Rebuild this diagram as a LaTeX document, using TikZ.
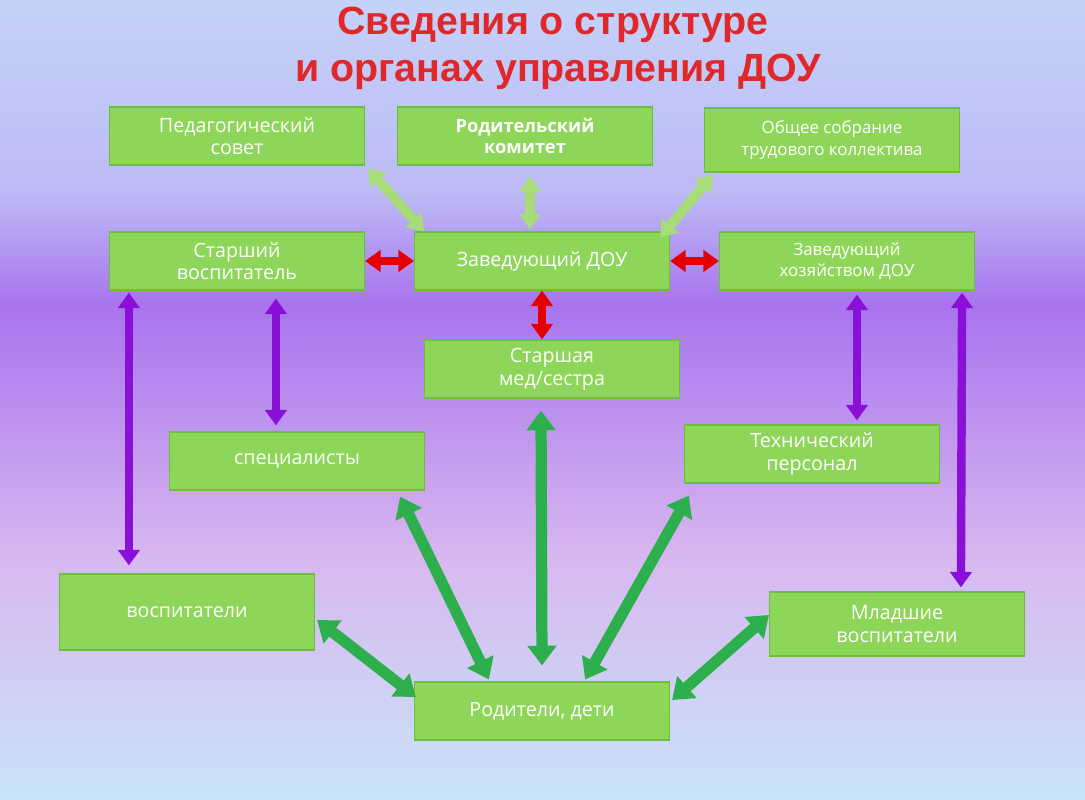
\documentclass[tikz,border=0pt]{standalone}
\usepackage{fontspec}
\setmainfont{Open Sans}
\newfontfamily\titlefont{Liberation Sans}
\usetikzlibrary{arrows.meta}
\usetikzlibrary{positioning}

\definecolor{boxgreen}{HTML}{8ED65A}
\definecolor{boxline}{HTML}{6CBE3E}
\definecolor{lightarrow}{HTML}{A8DC78}
\definecolor{darkarrow}{HTML}{2EAF4E}
\definecolor{violetarrow}{HTML}{8A10D8}
\definecolor{titlered}{HTML}{E0282A}
\definecolor{skytop}{HTML}{C4D2F8}
\definecolor{skymid}{HTML}{A874EE}
\definecolor{skylow}{HTML}{D8B8F0}
\definecolor{skybot}{HTML}{C8E4F8}

\pgfdeclareverticalshading{skyfade}{100bp}{
  color(0bp)=(skybot); color(25bp)=(skybot); color(40bp)=(skylow);
  color(56bp)=(skymid); color(63bp)=(skytop!75!skymid); color(75bp)=(skytop); color(100bp)=(skytop)}

\begin{document}
\begin{tikzpicture}[x=0.025cm, y=-0.025cm,
    box/.style={rectangle, fill=boxgreen, draw=boxline, thick, minimum width=6.375cm,
      minimum height=1.45cm, text=white, font=\fontsize{14}{16}\selectfont,
      align=center, inner sep=2pt},
    fat/.style={line width=6pt, {Triangle[width=15pt,length=11pt]}-{Triangle[width=15pt,length=11pt]}},
    lightlink/.style={fat, draw=lightarrow, line width=7pt},
    redlink/.style={fat, draw=red!90!black},
    violink/.style={fat, draw=violetarrow},
    greenlink/.style={fat, draw=darkarrow, line width=8pt,
      {Triangle[width=20pt,length=14pt]}-{Triangle[width=20pt,length=14pt]}}]

  \shade[shading=skyfade] (0,0) rectangle (1085,800);
  \useasboundingbox (0,0) rectangle (1085,800);

  \node[font=\titlefont\bfseries\fontsize{28}{30}\selectfont, text=titlered, draw=none] (title1) at (553,25) {Сведения о структуре};
  \node[font=\titlefont\bfseries\fontsize{28}{30}\selectfont, text=titlered, draw=none] (title2) at (558,72) {и органах управления ДОУ};

  % upper row
  \node[box] (ped) at (237,136) {Педагогический\\совет};
  \node[box, font=\bfseries\fontsize{13}{15}\selectfont] (rod) at (525,136) {Родительский\\комитет};
  \node[box, minimum height=1.6cm, font=\fontsize{12}{16}\selectfont] (obs) at (832,140) {Общее собрание\\трудового коллектива};

  % middle row
  \node[box] (star) at (237,261) {Старший\\воспитатель};
  \node[box] (zav) at (542,261) {Заведующий ДОУ};
  \node[box, font=\fontsize{12}{15}\selectfont] (hoz) at (847,261) {Заведующий\\хозяйством ДОУ};
  \node[box] (med) at (552,369) {Старшая\\мед/сестра};

  \node[box] (spec) at (297,461) {специалисты};
  \node[box] (tech) at (812,454) {Технический\\персонал};

  \node[box, minimum height=1.9cm] (vos) at (187,612) {воспитатели};
  \node[box, minimum height=1.6cm] (mlad) at (897,624) {Младшие\\воспитатели};
  \node[box] (par) at (542,711) {Родители, дети};

  % links to the head
  \draw[lightlink] ([shift={(3,3)}]ped.south east) -- ([shift={(10,0)}]zav.north west);
  \draw[lightlink] ([shift={(5,11)}]rod.south) -- ([shift={(-12,-2)}]zav.north);
  \draw[lightlink] ([shift={(9,2)}]obs.south west) -- ([shift={(-10,6)}]zav.north east);

  \draw[redlink] (star.east) -- (zav.west);
  \draw[redlink] (zav.east) -- (hoz.west);
  \draw[redlink] (zav.south) -- (med.north -| zav.south);

  % vertical links
  \draw[violink] ([shift={(20,2)}]star.south west) -- ([shift={(70,-8)}]vos.north west);
  \draw[violink] ([shift={(167,8)}]star.south west) -- ([shift={(107,-6)}]spec.north west);
  \draw[violink] ([shift={(138,4)}]hoz.south west) -- ([shift={(173,-4)}]tech.north west);
  \draw[violink] ([shift={(-13,2)}]hoz.south east) -- ([shift={(192,-4)}]mlad.north west);

  % links to the parents
  \draw[greenlink] ([shift={(2,8)}]vos.east) -- ([shift={(2,-14)}]par.west);
  \draw[greenlink] ([shift={(-25,6)}]spec.south east) -- ([shift={(75,-2)}]par.north west);
  \draw[greenlink] ([shift={(-11,12)}]med.south) -- ([shift={(0,-16)}]par.north);
  \draw[greenlink] ([shift={(5,12)}]tech.south west) -- ([shift={(-85,-2)}]par.north east);
  \draw[greenlink] ([shift={(0,-9)}]mlad.west) -- ([shift={(2,-11)}]par.east);
\end{tikzpicture}
\end{document}
